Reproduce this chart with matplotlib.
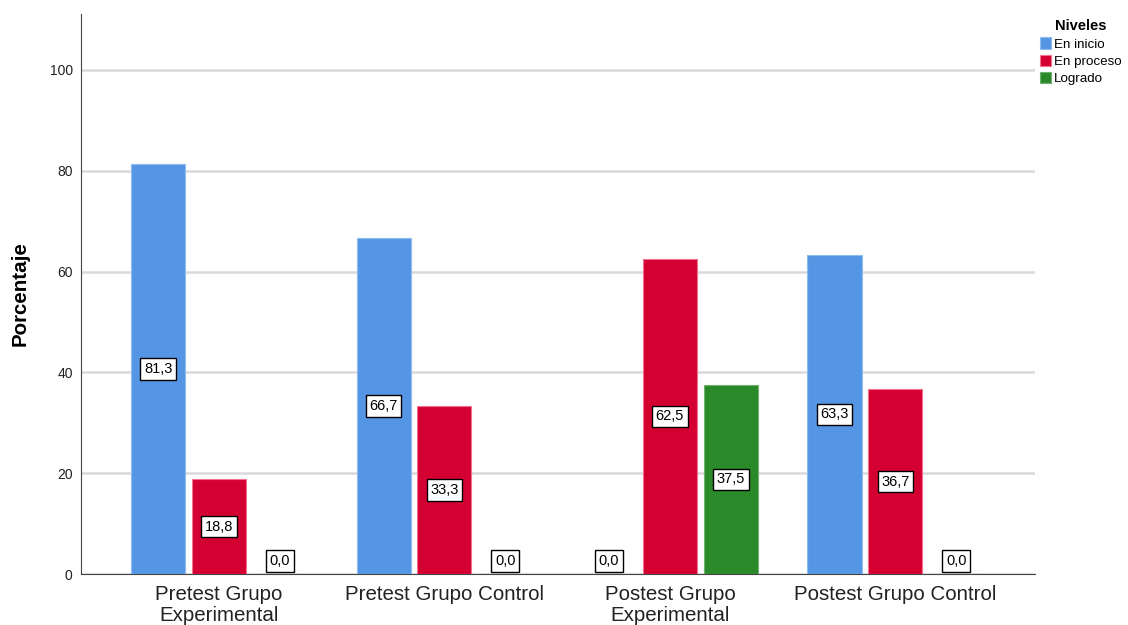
import matplotlib
matplotlib.use("Agg")
import matplotlib.pyplot as plt
import numpy as np

grupos = ["Pretest Grupo\nExperimental", "Pretest Grupo Control",
          "Postest Grupo\nExperimental", "Postest Grupo Control"]
niveles = ["En inicio", "En proceso", "Logrado"]
en_inicio = [81.3, 66.7, 0.0, 63.3]
en_proceso = [18.8, 33.3, 62.5, 36.7]
logrado = [0.0, 0.0, 37.5, 0.0]
colores = ["#5596E4", "#D50032", "#2A8A2A"]
bordes = ["#8FBBF0", "#F07090", "#6FB06F"]

plt.rcParams["font.family"] = ["Liberation Sans", "DejaVu Sans"]

fig = plt.figure(figsize=(11.28, 6.25), dpi=100)
ax = fig.add_axes([0.0718, 0.0816, 0.8457, 0.8960])

x = np.arange(len(grupos))
ancho = 0.24
paso = 0.27
series = [en_inicio, en_proceso, logrado]
for i, vals in enumerate(series):
    pos = x + (i - 1) * paso
    ax.bar(pos, vals, width=ancho, color=colores[i], edgecolor=bordes[i],
           linewidth=0.8, label=niveles[i], zorder=3)
    for p, v in zip(pos, vals):
        txt = f"{v:.1f}".replace(".", ",")
        yy = v / 2 if v > 0 else 2.6
        ax.text(p, yy, txt, ha="center", va="center", fontsize=10.5, zorder=5,
                bbox=dict(boxstyle="square,pad=0.25", fc="white", ec="black", lw=1))

ax.set_xlim(-0.612, 3.619)
ax.set_ylim(0, 111.1)
ax.set_yticks([0, 20, 40, 60, 80, 100])
ax.set_xticks(x)
ax.set_xticklabels(grupos, fontsize=14.8, linespacing=1.15)
ax.tick_params(axis="both", length=0, colors="#222222")
ax.tick_params(axis="y", labelsize=10, pad=6)
ax.tick_params(axis="x", pad=8)
ax.grid(axis="y", color="#D9D9D9", linewidth=1.8, zorder=0)
for s in ["top", "right"]:
    ax.spines[s].set_visible(False)
ax.spines["left"].set_color("#444444")
ax.spines["bottom"].set_color("#444444")
ax.set_ylabel("Porcentaje", fontsize=14.8, fontweight="bold", labelpad=14)

leg = ax.legend(title="Niveles", loc="upper left", bbox_to_anchor=(1.002, 0.995),
                frameon=False, fontsize=9.6, handlelength=0.85, handleheight=0.9,
                handletextpad=0.25, labelspacing=0.3, borderaxespad=0, borderpad=0.2)
leg.get_title().set_fontweight("bold")
leg.get_title().set_fontsize(10.5)

fig.savefig("out.png", dpi=100)
